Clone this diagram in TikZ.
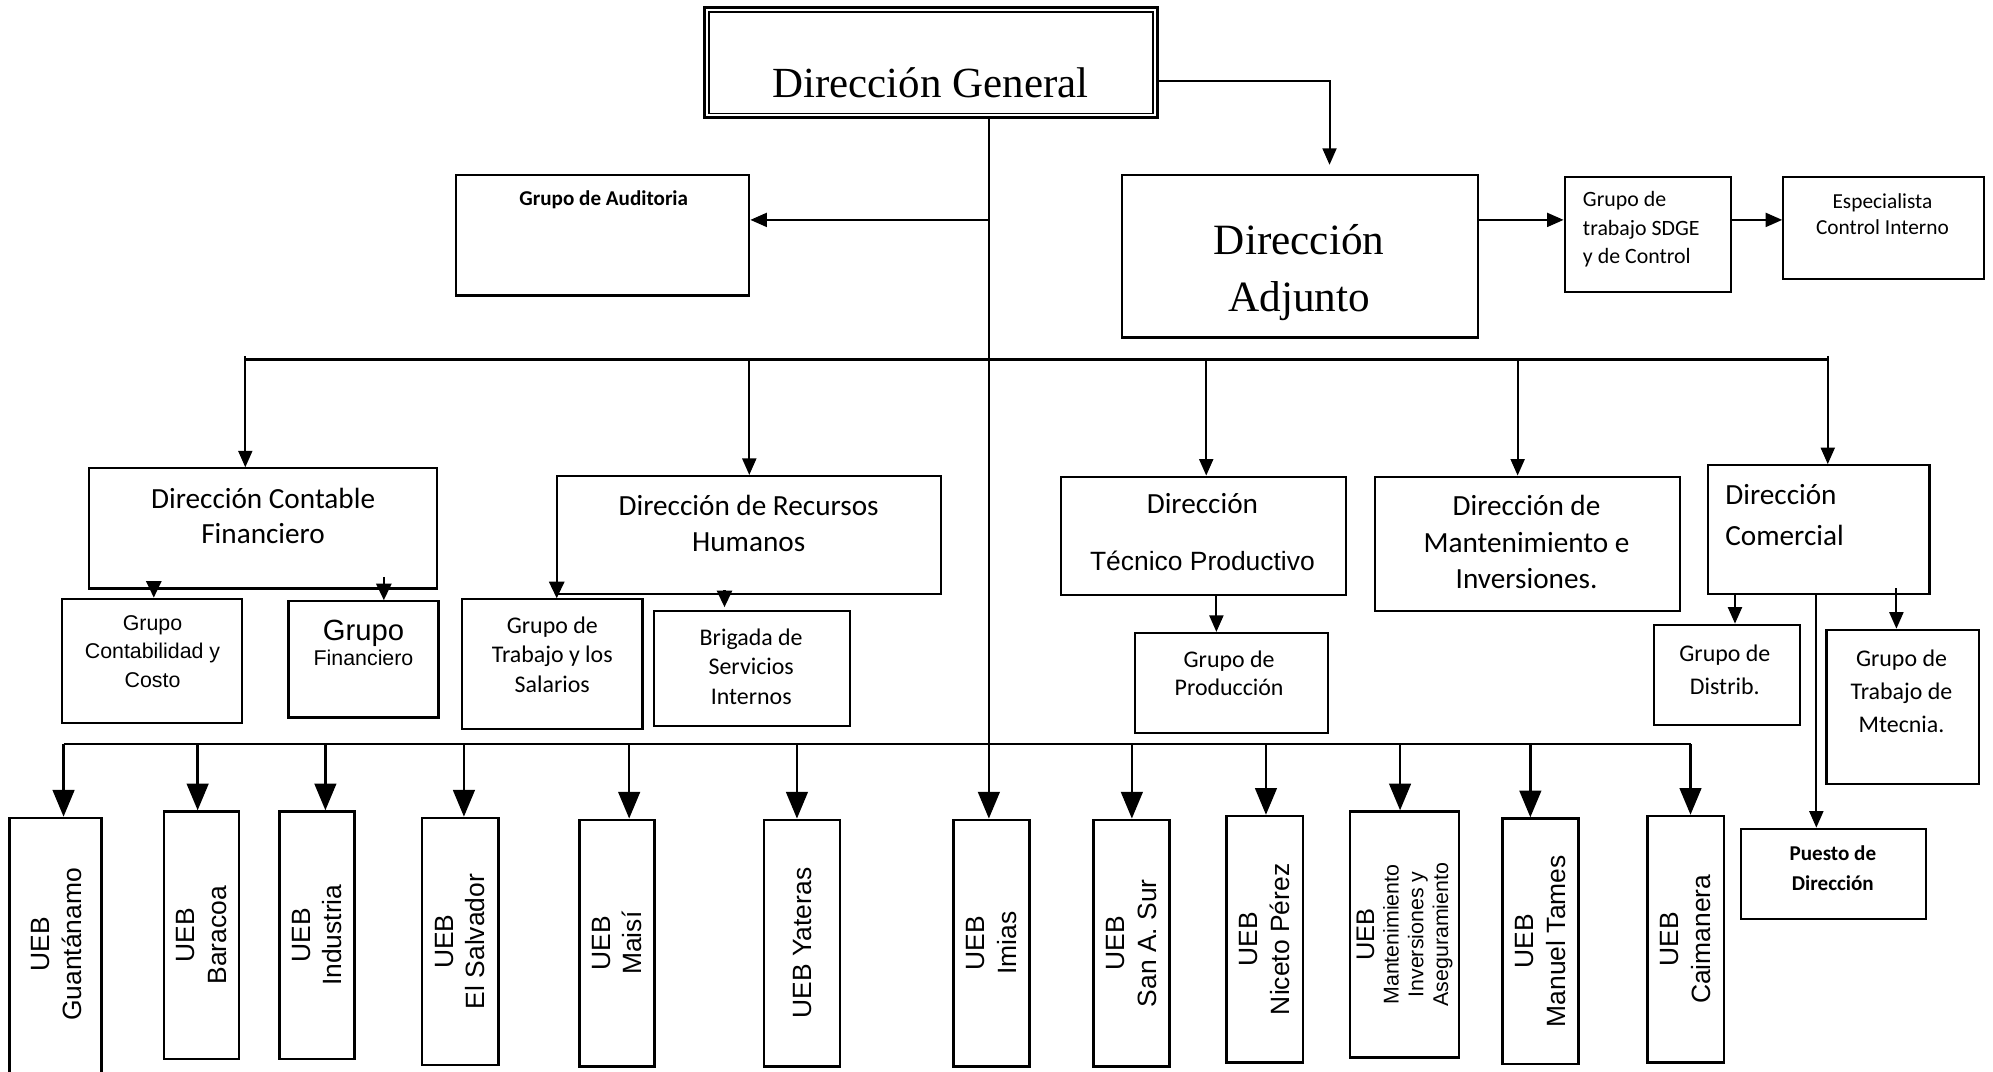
\documentclass[tikz,border=0pt]{standalone}
\usepackage{fontspec}
\setmainfont{Carlito}
\newfontfamily\arialfont{Liberation Sans}
\newfontfamily\cambriafont{Liberation Serif}
\usetikzlibrary{positioning,arrows.meta,fit}

\begin{document}
\begin{tikzpicture}[x=0.5pt, y=-0.5pt,
  % Node Styles
  box/.style={rectangle, draw, line width=0.85pt, inner sep=0pt},
  uebbox/.style={rectangle, draw, line width=1pt, inner sep=0pt},
  dgtext/.style={font=\cambriafont\fontsize{16.9}{20}\selectfont, inner sep=0pt},
  adjtext/.style={font=\cambriafont\fontsize{17}{22.5}\selectfont, align=center, inner sep=0pt},
  dirtext/.style={font=\fontsize{11.5}{14}\selectfont, align=center, inner sep=0pt},
  grptext/.style={font=\fontsize{9.4}{11.5}\selectfont, align=center, inner sep=0pt},
  smalltext/.style={font=\fontsize{8.6}{11.25}\selectfont, inner sep=0pt},
  boldtext/.style={font=\bfseries\fontsize{8.3}{12}\selectfont, align=center, inner sep=0pt},
  arialtext/.style={font=\arialfont\fontsize{8.4}{11.25}\selectfont, align=center, inner sep=0pt},
  uebtext/.style={font=\arialfont\fontsize{10.4}{12.5}\selectfont, align=center, rotate=90, inner sep=0pt},
  % Arrow Styles
  solidarrow/.style={-{Triangle[length=6.5pt, width=5.5pt]}, line width=0.8pt},
  subarrow/.style={-{Triangle[length=6.5pt, width=6pt]}, line width=0.8pt},
  uebarrow/.style={-{Triangle[length=10.5pt, width=8.5pt]}, line width=1pt},
  busline/.style={line width=1pt},
]
\path[use as bounding box, fill=white] (0,0) rectangle (1568,843);
\clip (0,0) rectangle (1568,843);

% Organigrama: Direccion General

\node[box, line width=1.2pt, fit={(554.5,6) (910.5,92.5)}] (D_GENERAL) {};
\draw[line width=0.6pt] ([shift={(4.5,4.5)}]D_GENERAL.north west) rectangle ([shift={(-4.5,-4.5)}]D_GENERAL.south east);
\node[dgtext] (D_GENERAL_T) at (732,65) {Dirección General};

\node[box, fit={(359,138) (589.5,232.5)}] (G_AUDITORIA) {};
\node[boldtext] (G_AUDITORIA_T) at (475,157) {Grupo de Auditoria};

\node[box, fit={(883,137.5) (1163,265.5)}] (D_ADJUNTO) {};
\node[adjtext] (D_ADJUNTO_T) at (1022,214.5) {Dirección\\Adjunto};

\node[box, fit={(1231,139) (1362,230)}] (G_SDGE) {};
\node[smalltext, align=left, anchor=west] (G_SDGE_T) at (1245,180.5) {Grupo de\\trabajo SDGE\\y de Control};

\node[box, fit={(1403,139) (1561,219.5)}] (E_CONTROL) {};
\node[smalltext, font=\fontsize{8.4}{10.5}\selectfont, align=center] (E_CONTROL_T) at (1481,168.5) {Especialista\\Control Interno};

% Direcciones
\node[box, fit={(70,368.5) (344,463)}] (D_CONTABLE) {};
\node[dirtext] (D_CONTABLE_T) at (207,406) {Dirección Contable\\Financiero};

\node[box, fit={(438,374.5) (740,467.5)}] (D_RRHH) {};
\node[dirtext] (D_RRHH_T) at (589,412) {Dirección de Recursos\\Humanos};

\node[box, fit={(834.5,375) (1059,468)}] (D_TECNICO) {};
\node[dirtext] (D_TECNICO_T) at (946,418.5) {Dirección\\[8.5pt]{\arialfont\fontsize{10.4}{14}\selectfont Técnico Productivo}};

\node[box, fit={(1082,375) (1322,481)}] (D_MANTEN) {};
\node[dirtext, font=\fontsize{11.5}{14.25}\selectfont] (D_MANTEN_T) at (1201,426.5) {Dirección de\\Mantenimiento e\\Inversiones.};

\node[box, fit={(1344,366) (1518,467)}] (D_COMERCIAL) {};
\node[dirtext, font=\fontsize{11.5}{16}\selectfont, align=left, anchor=west] (D_COMERCIAL_T) at (1357,405) {Dirección\\Comercial};

% Grupos
\node[box, fit={(49,471) (190.5,569)}] (G_CONTAB) {};
\node[arialtext] (G_CONTAB_T) at (120,512.5) {Grupo\\Contabilidad y\\Costo};

\node[box, fit={(227,473) (345,564.5)}] (G_FINAN) {};
\node[arialtext, font=\arialfont\fontsize{8.4}{10}\selectfont] (G_FINAN_T) at (286,506) {{\fontsize{11.5}{10}\selectfont Grupo}\\Financiero};

\node[box, fit={(363.5,471.5) (505.5,573.5)}] (G_SALARIOS) {};
\node[grptext] (G_SALARIOS_T) at (434.5,515) {Grupo de\\Trabajo y los\\Salarios};

\node[box, fit={(514.5,480.5) (669,571)}] (B_SERVICIOS) {};
\node[grptext, font=\fontsize{9.4}{11.75}\selectfont] (B_SERVICIOS_T) at (591,524.5) {Brigada de\\Servicios\\Internos};

\node[box, fit={(893,498) (1045,577)}] (G_PRODUCCION) {};
\node[grptext, font=\fontsize{9.4}{11}\selectfont] (G_PRODUCCION_T) at (967,530) {Grupo de\\Producción};

\node[box, fit={(1301,491.5) (1416,570.5)}] (G_DISTRIB) {};
\node[grptext, font=\fontsize{9.4}{13}\selectfont] (G_DISTRIB_T) at (1357,527) {Grupo de\\Distrib.};

\node[box, fit={(1437,495.5) (1557,617)}] (G_MTECNIA) {};
\node[grptext, font=\fontsize{9.4}{13}\selectfont] (G_MTECNIA_T) at (1496,544) {Grupo de\\Trabajo de\\Mtecnia.};

\node[box, fit={(1370,652) (1515,723)}] (P_DIRECCION) {};
\node[boldtext] (P_DIRECCION_T) at (1442,683) {Puesto de\\Dirección};

% UEB
\node[uebbox, fit={(7.5,643.5) (80,848)}] (UEB_GUANTANAMO) {};
\node[uebtext] (UEB_GUANTANAMO_T) at (44.5,743) {UEB\\Guantánamo};
\node[uebbox, fit={(129,638.5) (188,833)}] (UEB_BARACOA) {};
\node[uebtext] (UEB_BARACOA_T) at (UEB_BARACOA) {UEB\\Baracoa};
\node[uebbox, fit={(220,638.5) (279,833)}] (UEB_INDUSTRIA) {};
\node[uebtext] (UEB_INDUSTRIA_T) at (UEB_INDUSTRIA) {UEB\\Industria};
\node[uebbox, fit={(332,643.5) (392,838)}] (UEB_SALVADOR) {};
\node[uebtext] (UEB_SALVADOR_T) at (UEB_SALVADOR) {UEB\\El Salvador};
\node[uebbox, fit={(456,645) (515,839)}] (UEB_MAISI) {};
\node[uebtext] (UEB_MAISI_T) at (UEB_MAISI) {UEB\\Maisí};
\node[uebbox, fit={(601,645) (661,839)}] (UEB_YATERAS) {};
\node[uebtext] (UEB_YATERAS_T) at (UEB_YATERAS) {UEB Yateras};
\node[uebbox, fit={(750,645) (810,839)}] (UEB_IMIAS) {};
\node[uebtext] (UEB_IMIAS_T) at (UEB_IMIAS) {UEB\\Imias};
\node[uebbox, fit={(860.5,645) (920,839)}] (UEB_SANA) {};
\node[uebtext] (UEB_SANA_T) at (UEB_SANA) {UEB\\San A. Sur};
\node[uebbox, fit={(965,642) (1025,836)}] (UEB_NICETO) {};
\node[uebtext] (UEB_NICETO_T) at (UEB_NICETO) {UEB\\Niceto Pérez};
\node[uebbox, fit={(1062,638.5) (1148,832)}] (UEB_MANTEN) {};
\node[uebtext, font=\arialfont\fontsize{8.4}{9.7}\selectfont] (UEB_MANTEN_T) at (UEB_MANTEN) {{\fontsize{10}{9.7}\selectfont UEB}\\Mantenimiento\\Inversiones y\\Aseguramiento};
\node[uebbox, fit={(1182,644) (1242,837)}] (UEB_TAMES) {};
\node[uebtext] (UEB_TAMES_T) at (UEB_TAMES) {UEB\\Manuel Tames};
\node[uebbox, fit={(1296,642) (1356.5,836)}] (UEB_CAIMANERA) {};
\node[uebtext] (UEB_CAIMANERA_T) at (UEB_CAIMANERA) {UEB\\Caimanera};

% Conectores superiores
\coordinate (T_AUD) at (778,173);
\coordinate (T_ADJ) at (1046,64);
\coordinate (R_ADJ) at (0,173);
\draw[uebarrow] (D_GENERAL.south -| T_AUD) -- (UEB_IMIAS.north -| T_AUD);
\draw[solidarrow] (T_AUD) -- (G_AUDITORIA.east |- T_AUD);
\draw[solidarrow] (D_GENERAL.east |- T_ADJ) -- (T_ADJ) -- ([yshift=3.5pt]D_ADJUNTO.north -| T_ADJ);
\draw[solidarrow] (D_ADJUNTO.east |- R_ADJ) -- (G_SDGE.west |- R_ADJ);
\draw[solidarrow] (G_SDGE.east |- R_ADJ) -- (E_CONTROL.west |- R_ADJ);

% Barra de direcciones
\coordinate (B_1) at (193,283);
\coordinate (B_2) at (589.5,283);
\coordinate (B_3) at (949,283);
\coordinate (B_4) at (1194,283);
\coordinate (B_5) at (1438,283);
\draw[busline] (B_1) -- (B_5);
\draw[solidarrow] ([yshift=1.5pt]B_1) -- (D_CONTABLE.north -| B_1);
\draw[solidarrow] (B_2) -- (D_RRHH.north -| B_2);
\draw[solidarrow] (B_3) -- (D_TECNICO.north -| B_3);
\draw[solidarrow] (B_4) -- (D_MANTEN.north -| B_4);
\draw[solidarrow] ([yshift=1.5pt]B_5) -- (D_COMERCIAL.north -| B_5);

% Grupos subordinados
\coordinate (X_CONTAB) at (121,0);
\coordinate (X_FINAN) at (302,0);
\coordinate (X_SALAR) at (438,0);
\coordinate (X_SERV) at (570,0);
\coordinate (X_PROD) at (957,0);
\coordinate (X_DISTRIB) at (1365,0);
\coordinate (X_PUESTO) at (1429,0);
\coordinate (X_MTEC) at (1492,0);
\draw[subarrow] ([yshift=2.5pt]D_CONTABLE.south -| X_CONTAB) -- (G_CONTAB.north -| X_CONTAB);
\draw[subarrow] ([yshift=5pt]D_CONTABLE.south -| X_FINAN) -- (G_FINAN.north -| X_FINAN);
\draw[subarrow] ([yshift=8pt]D_RRHH.south -| X_SALAR) -- (G_SALARIOS.north -| X_SALAR);
\draw[subarrow] ([yshift=2pt]D_RRHH.south -| X_SERV) -- ([yshift=1pt]B_SERVICIOS.north -| X_SERV);
\draw[solidarrow] (D_TECNICO.south -| X_PROD) -- (G_PRODUCCION.north -| X_PROD);
\draw[solidarrow] (D_COMERCIAL.south -| X_DISTRIB) -- (G_DISTRIB.north -| X_DISTRIB);
\draw[solidarrow] ([yshift=2.5pt]D_COMERCIAL.south -| X_MTEC) -- (G_MTECNIA.north -| X_MTEC);
\draw[solidarrow] (D_COMERCIAL.south -| X_PUESTO) -- (P_DIRECCION.north -| X_PUESTO);

% Barra de UEB
\coordinate (L_GUANTANAMO) at (50,585.5);
\coordinate (L_BARACOA) at (155.5,585.5);
\coordinate (L_INDUSTRIA) at (256,585.5);
\coordinate (L_SALVADOR) at (365,585.5);
\coordinate (L_MAISI) at (495,585.5);
\coordinate (L_YATERAS) at (627,585.5);
\coordinate (L_SANA) at (890.5,585.5);
\coordinate (L_NICETO) at (996,585.5);
\coordinate (L_MANTEN) at (1101.5,585.5);
\coordinate (L_TAMES) at (1204,585.5);
\coordinate (L_CAIMANERA) at (1330,585.5);
\draw[busline] (L_GUANTANAMO) -- (L_CAIMANERA);
\draw[uebarrow] (L_GUANTANAMO) -- (UEB_GUANTANAMO.north -| L_GUANTANAMO);
\draw[uebarrow] (L_BARACOA) -- (UEB_BARACOA.north -| L_BARACOA);
\draw[uebarrow] (L_INDUSTRIA) -- (UEB_INDUSTRIA.north -| L_INDUSTRIA);
\draw[uebarrow] (L_SALVADOR) -- (UEB_SALVADOR.north -| L_SALVADOR);
\draw[uebarrow] (L_MAISI) -- (UEB_MAISI.north -| L_MAISI);
\draw[uebarrow] (L_YATERAS) -- (UEB_YATERAS.north -| L_YATERAS);
\draw[uebarrow] (L_SANA) -- (UEB_SANA.north -| L_SANA);
\draw[uebarrow] (L_NICETO) -- (UEB_NICETO.north -| L_NICETO);
\draw[uebarrow] (L_MANTEN) -- (UEB_MANTEN.north -| L_MANTEN);
\draw[uebarrow] (L_TAMES) -- (UEB_TAMES.north -| L_TAMES);
\draw[uebarrow] (L_CAIMANERA) -- (UEB_CAIMANERA.north -| L_CAIMANERA);

\end{tikzpicture}
\end{document}
